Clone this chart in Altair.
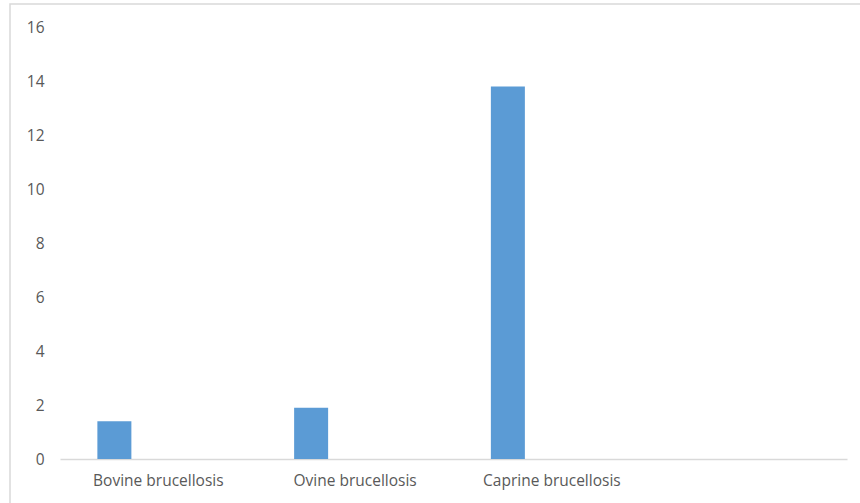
import altair as alt
import pandas as pd

categories = ["Bovine brucellosis", "Ovine brucellosis", "Caprine brucellosis", " "]
values = [1.4, 1.9, 13.8, None]
y_ticks = [0, 2, 4, 6, 8, 10, 12, 14, 16]

df = pd.DataFrame({"category": categories, "value": values})

label_font = "Open Sans"

x_enc = alt.X("category:N", sort=categories,
              scale=alt.Scale(domain=categories, paddingInner=0, paddingOuter=0),
              axis=alt.Axis(title=None, labelAngle=0, ticks=False, domain=True,
                            domainColor="#d9d9d9", domainWidth=1.5,
                            labelColor="#595959", labelFontSize=15.5,
                            labelFont=label_font, labelPadding=14, grid=False))
y_enc = alt.Y("value:Q", scale=alt.Scale(domain=[0, 16], nice=False),
              axis=alt.Axis(title=None, values=y_ticks, ticks=False, domain=False,
                            grid=False, labelColor="#595959", labelFontSize=15.5,
                            labelFont=label_font, labelPadding=16))

bars = alt.Chart(df).mark_bar(color="#5B9BD5", width=34, xOffset=-44).encode(
    x=x_enc, y=y_enc
)

border = alt.Chart(pd.DataFrame({"a": [0]})).mark_rect(
    fill=None, stroke="#d9d9d9", strokeWidth=1.5
).encode(
    x=alt.value(-50), x2=alt.value(900), y=alt.value(-23), y2=alt.value(600)
)

chart = alt.layer(border, bars).properties(
    width=787, height=432,
    autosize=alt.AutoSizeParams(type="none"),
    padding={"left": 60, "top": 27, "right": 13, "bottom": 44},
    background="white"
).configure_view(stroke=None)

chart.save("out.html", embed_options={"renderer": "svg", "actions": False})
